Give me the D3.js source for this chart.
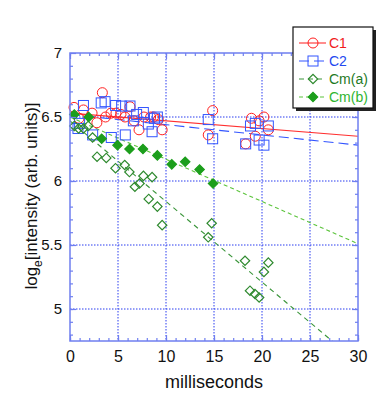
<!DOCTYPE html>
<html>
<head>
<meta charset="utf-8">
<script src="https://cdn.jsdelivr.net/npm/d3@7"></script>
<style>
  body { margin: 0; background: #fff; }
  text { font-family: "Liberation Sans", Arial, sans-serif; }
</style>
</head>
<body>
<div class="chart"></div>
<script>
// ---- data ----
const c1X = [0.42, 0.94, 1.4, 2.3, 2.8, 3.37, 3.7, 4.27, 4.79, 5.31, 5.73, 6.25, 6.67, 7.19, 7.7, 8.4, 8.7, 9.2, 9.6,
             14.4, 14.86, 18.3, 18.9, 19.3, 19.7, 20.2, 20.66];
const c1Y = [6.575, 6.49, 6.555, 6.53, 6.455, 6.69, 6.5, 6.53, 6.53, 6.52, 6.5, 6.58, 6.47, 6.4, 6.5, 6.5, 6.5, 6.48, 6.4,
             6.36, 6.55, 6.29, 6.49, 6.35, 6.47, 6.5, 6.4];

const c2X = [0.83, 1.0, 1.4, 2.36, 3.25, 3.65, 4.3, 4.75, 5.38, 5.76, 6.25, 6.6, 6.94, 7.64, 8.16, 8.55, 8.8, 9.1,
             14.4, 14.86, 18.3, 18.8, 19.3, 19.7, 20.2, 20.66];
const c2Y = [6.41, 6.45, 6.59, 6.36, 6.61, 6.62, 6.34, 6.59, 6.585, 6.36, 6.586, 6.47, 6.52, 6.535, 6.445, 6.385, 6.49, 6.5,
             6.48, 6.33, 6.29, 6.43, 6.45, 6.32, 6.28, 6.43];

const cmaX = [0.45, 0.9, 1.4, 1.9, 2.35, 2.82, 3.78, 4.74, 5.7, 6.19, 6.76, 7.24, 7.65, 8.2, 8.55, 9.1, 9.6,
              14.4, 14.76, 18.23, 18.75, 19.27, 19.7, 20.2, 20.66];
const cmaY = [6.43, 6.41, 6.41, 6.43, 6.34, 6.19, 6.18, 6.1, 6.125, 6.07, 5.955, 5.98, 6.04, 5.86, 6.03, 5.8, 5.655,
              5.56, 5.67, 5.377, 5.143, 5.117, 5.09, 5.29, 5.362];

const cmbX = [0.45, 1.95, 3.3, 4.95, 6.2, 7.6, 9.1, 10.6, 12.0, 13.5, 14.9];
const cmbY = [6.52, 6.5, 6.33, 6.28, 6.25, 6.25, 6.2, 6.13, 6.15, 6.09, 5.98];

// fitted lines, [x, y] at both ends
const c1Fit = [[0, 6.53], [30, 6.35]];
const c2Fit = [[0, 6.52], [30, 6.28]];
const cmaFit = [[0, 6.47], [30, 4.58]];
const cmbFit = [[0, 6.5], [30, 5.51]];

const seriesNames = ['C1', 'C2', 'Cm(a)', 'Cm(b)'];
const xTicks = [0, 5, 10, 15, 20, 25, 30];
const yTicks = [5, 5.5, 6, 6.5, 7];
const yTickLabels = ['5', '5.5', '6', '6.5', '7'];

let canvas = {
  svg: {},
  xScale: {},
  yScale: {},
  config: {
    svgW: 391,
    svgH: 409,
    top: 53,
    left: 70,
    w: 288,
    h: 288
  },
  styles: [
    { color: '#ff2020', text: '#f01c1c', line: '#ff3030', dash: null, shape: 'circle' },
    { color: '#3355ff', text: '#2448f0', line: '#3355ff', dash: '10,5', shape: 'square' },
    { color: '#2f8a2f', text: '#1f7a1f', line: '#3a953a', dash: '5,4', shape: 'diamond' },
    { color: '#1c9e1c', text: '#2fb52f', line: '#5cc43c', dash: '4,3', shape: 'fdiamond' }
  ],
  init: function () {
    this.svg = d3.select('.chart').append('svg')
      .attr('width', this.config.svgW)
      .attr('height', this.config.svgH);
    this.bind();
    this.render();
  },
  bind: function () {
    let c = this.config;
    this.xScale = d3.scaleLinear().domain([0, 30]).range([c.left, c.left + c.w]);
    this.yScale = d3.scaleLinear().domain([4.75, 7]).range([c.top + c.h, c.top]);
  },
  marker: function (sel, shape, color) {
    if (shape === 'circle') {
      sel.append('circle').attr('r', 5).attr('fill', 'none').attr('stroke', color).attr('stroke-width', 1);
    } else if (shape === 'square') {
      sel.append('rect').attr('x', -5).attr('y', -5).attr('width', 10).attr('height', 10)
        .attr('fill', 'none').attr('stroke', color).attr('stroke-width', 1);
    } else {
      sel.append('path').attr('d', d3.symbol(d3.symbolSquare, 44)())
        .attr('transform', 'rotate(45)')
        .attr('fill', shape === 'fdiamond' ? color : 'none')
        .attr('stroke', color).attr('stroke-width', 1.2);
    }
  },
  render: function () {
    let c = this.config;
    let x = this.xScale, y = this.yScale;
    let svg = this.svg;

    svg.append('clipPath').attr('id', 'clip')
      .append('rect').attr('x', c.left).attr('y', c.top).attr('width', c.w).attr('height', c.h);

    // grid lines (dotted blue)
    let grid = svg.append('g').attr('stroke', '#2a3cf0').attr('stroke-width', 1).attr('stroke-dasharray', '1.5,1.5');
    grid.selectAll('line.gx').data(xTicks.slice(1, -1)).enter().append('line')
      .attr('x1', d => x(d)).attr('x2', d => x(d)).attr('y1', c.top).attr('y2', c.top + c.h);
    grid.selectAll('line.gy').data(yTicks.slice(0, -1)).enter().append('line')
      .attr('y1', d => y(d)).attr('y2', d => y(d)).attr('x1', c.left).attr('x2', c.left + c.w);

    // fitted lines
    let fits = [c1Fit, c2Fit, cmaFit, cmbFit];
    let line = d3.line().x(d => x(d[0])).y(d => y(d[1]));
    fits.forEach((f, i) => {
      svg.append('path')
        .attr('clip-path', 'url(#clip)')
        .attr('d', line(f))
        .attr('fill', 'none')
        .attr('stroke', this.styles[i].line)
        .attr('stroke-width', 1.1)
        .attr('stroke-dasharray', this.styles[i].dash);
    });

    // data points
    let sets = [[c1X, c1Y], [c2X, c2Y], [cmaX, cmaY], [cmbX, cmbY]];
    sets.forEach((s, i) => {
      let st = this.styles[i];
      let g = svg.append('g').selectAll('g').data(s[0]).enter().append('g')
        .attr('transform', (d, j) => `translate(${x(d)},${y(s[1][j])})`);
      this.marker(g, st.shape, st.color);
    });

    // axes: major/minor ticks on all four sides, pointing in
    let axisColor = '#6f7ff0';
    let mk = (axis, tr) => {
      let g = svg.append('g').attr('transform', tr).call(axis);
      g.select('.domain').remove();
      g.selectAll('line').attr('stroke', axisColor).attr('stroke-width', 1.2);
      return g;
    };
    let minorX = d3.range(0, 31, 1), minorY = d3.range(4.8, 7.0, 0.1);
    mk(d3.axisBottom(x).tickValues(minorX).tickSize(-3).tickFormat(''), `translate(0,${c.top + c.h})`);
    mk(d3.axisTop(x).tickValues(minorX).tickSize(-3).tickFormat(''), `translate(0,${c.top})`);
    mk(d3.axisLeft(y).tickValues(minorY).tickSize(-3).tickFormat(''), `translate(${c.left},0)`);
    mk(d3.axisRight(y).tickValues(minorY).tickSize(-3).tickFormat(''), `translate(${c.left + c.w},0)`);

    let xa = mk(d3.axisBottom(x).tickValues(xTicks).tickSize(-6).tickPadding(10), `translate(0,${c.top + c.h})`);
    mk(d3.axisTop(x).tickValues(xTicks).tickSize(-6).tickFormat(''), `translate(0,${c.top})`);
    let ya = mk(d3.axisLeft(y).tickValues(yTicks).tickSize(-6).tickPadding(8)
      .tickFormat((d, i) => yTickLabels[i]), `translate(${c.left},0)`);
    mk(d3.axisRight(y).tickValues(yTicks).tickSize(-6).tickFormat(''), `translate(${c.left + c.w},0)`);
    xa.selectAll('text').attr('fill', '#111').style('font-size', '16px');
    ya.selectAll('text').attr('fill', '#111').style('font-size', '15px');
    [xa, ya].forEach(g => g.selectAll('text').style('font-family', '"Liberation Sans", Arial, sans-serif'));

    svg.append('rect')
      .attr('x', c.left).attr('y', c.top).attr('width', c.w).attr('height', c.h)
      .attr('fill', 'none').attr('stroke', axisColor).attr('stroke-width', 1.5);

    // axis titles
    svg.append('text')
      .attr('x', c.left + c.w / 2).attr('y', 388)
      .attr('text-anchor', 'middle')
      .style('font-size', '18px').attr('fill', '#111')
      .text('milliseconds');
    let yt = svg.append('text')
      .attr('transform', 'translate(37,196) rotate(-90)')
      .attr('text-anchor', 'middle')
      .style('font-size', '17px').attr('fill', '#111');
    yt.append('tspan').text('log');
    yt.append('tspan').attr('dy', 5).style('font-size', '12px').text('e');
    yt.append('tspan').attr('dy', -5).text('[intensity (arb. units)]');

    // legend with drop shadow
    let lg = svg.append('g').attr('transform', 'translate(293,27)');
    lg.append('rect').attr('x', 3).attr('y', 3).attr('width', 80).attr('height', 81).attr('fill', '#222');
    lg.append('rect').attr('width', 80).attr('height', 81).attr('fill', '#fff')
      .attr('stroke', '#111').attr('stroke-width', 1.2);
    seriesNames.forEach((name, i) => {
      let st = this.styles[i];
      let row = lg.append('g').attr('transform', `translate(0,${16 + i * 18})`);
      row.append('line').attr('x1', 6).attr('x2', 33)
        .attr('stroke', st.line).attr('stroke-width', 1.1).attr('stroke-dasharray', st.dash);
      this.marker(row.append('g').attr('transform', 'translate(20,0)'), st.shape, st.color);
      row.append('text').attr('x', 36).attr('y', 5)
        .style('font-size', '14px').attr('fill', st.text).text(name);
    });
  }
};

canvas.init();
</script>
</body>
</html>
